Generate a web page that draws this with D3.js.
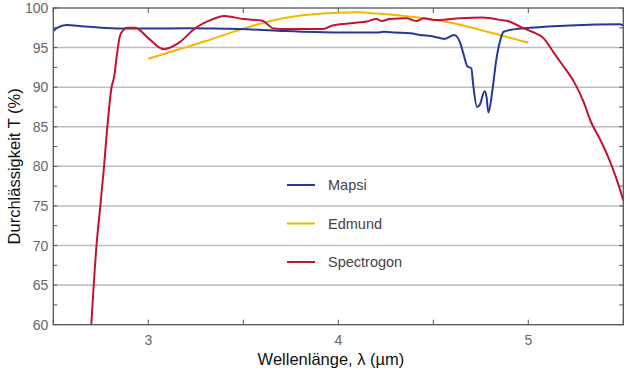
<!DOCTYPE html>
<html>

<head>
  <title>Durchlässigkeit</title>
  <script src="https://cdn.jsdelivr.net/npm/d3@7"></script>
  <style>
    body { margin: 0; background: #fff; }
  </style>
</head>

<body>
  <svg width="630" height="378" id="mainsvg"></svg>
  <script>
    // Wellenlänge (µm) / Durchlässigkeit (%)
    const mapsiX = [2.5, 2.52, 2.57, 2.65, 2.75, 2.85, 3.0, 3.2, 3.48, 3.7, 4.01, 4.2, 4.24, 4.3, 4.38, 4.43, 4.5, 4.56, 4.61, 4.64, 4.66, 4.68, 4.70, 4.71, 4.73, 4.745, 4.77, 4.78, 4.79, 4.81, 4.83, 4.85, 4.87, 4.92, 5.01, 5.22, 5.48, 5.5];
    const mapsiY = [97.1, 97.5, 97.85, 97.7, 97.5, 97.4, 97.4, 97.45, 97.35, 97.1, 96.9, 96.9, 97.0, 96.9, 96.8, 96.6, 96.4, 96.1, 96.6, 95.7, 94.1, 92.6, 92.4, 90.3, 87.5, 87.8, 89.5, 88.8, 86.8, 89.4, 93.2, 95.7, 97.0, 97.3, 97.5, 97.8, 97.95, 97.8];

    const edmundX = [3.0, 3.15, 3.3, 3.5, 3.65, 3.8, 4.0, 4.1, 4.2, 4.4, 4.6, 4.8, 5.0];
    const edmundY = [93.6, 94.7, 95.8, 97.4, 98.4, 99.05, 99.4, 99.45, 99.3, 98.85, 98.1, 96.9, 95.6];

    const spectroX = [2.70, 2.727, 2.748, 2.767, 2.783, 2.806, 2.82, 2.836, 2.85, 2.868, 2.89, 2.93, 3.0, 3.08, 3.16, 3.25, 3.32, 3.40, 3.5, 3.6, 3.66, 3.7, 3.8, 3.92, 3.97, 4.08, 4.15, 4.2, 4.23, 4.27, 4.36, 4.41, 4.45, 4.5, 4.53, 4.64, 4.76, 4.85, 4.90, 4.96, 5.02, 5.08, 5.13, 5.18, 5.24, 5.29, 5.33, 5.38, 5.42, 5.46, 5.5];
    const spectroY = [60, 69.9, 75.1, 80.0, 84.6, 89.9, 91.3, 94.3, 96.4, 97.2, 97.5, 97.5, 96.2, 94.8, 95.6, 97.5, 98.4, 99.0, 98.6, 98.4, 97.4, 97.35, 97.35, 97.35, 97.8, 98.1, 98.3, 98.6, 98.35, 98.6, 98.7, 98.35, 98.7, 98.5, 98.5, 98.7, 98.8, 98.5, 98.3, 97.6, 97.0, 96.2, 94.5, 92.8, 90.7, 88.2, 85.6, 83.3, 81.2, 78.7, 75.7];

    const seriesNames = ['Mapsi', 'Edmund', 'Spectrogon'];
    const seriesColors = ['#25399a', '#f0b800', '#c4122f'];
    const xTicks = [3, 4, 5];
    const xMinor = [2.5, 3.5, 4.5, 5.5];
    const yTicks = [60, 65, 70, 75, 80, 85, 90, 95, 100];
    const yMinor = [62.5, 67.5, 72.5, 77.5, 82.5, 87.5, 92.5, 97.5];

    const svg = d3.select('#mainsvg');
    const margin = { left: 53.3, right: 6.7, top: 8, bottom: 53.3 };
    const width = +svg.attr('width');
    const height = +svg.attr('height');
    const x = d3.scaleLinear().domain([2.5, 5.5]).range([margin.left, width - margin.right]);
    const y = d3.scaleLinear().domain([60, 100]).range([height - margin.bottom, margin.top]);

    const font = '"Liberation Sans", Arial, sans-serif';

    // gridlines
    svg.append('g').selectAll('line')
      .data(yTicks.filter(d => d > 60 && d < 100))
      .join('line')
      .attr('x1', x(2.5)).attr('x2', x(5.5))
      .attr('y1', d => y(d)).attr('y2', d => y(d))
      .attr('stroke', '#bdbdbd').attr('stroke-width', 1.5);

    // minor ticks inside frame
    const tk = svg.append('g').attr('stroke', '#555').attr('stroke-width', 1);
    xMinor.concat(xTicks).forEach(v => {
      tk.append('line').attr('x1', x(v)).attr('x2', x(v)).attr('y1', y(60)).attr('y2', y(60) - 5);
      tk.append('line').attr('x1', x(v)).attr('x2', x(v)).attr('y1', y(100)).attr('y2', y(100) + 5);
    });
    yMinor.concat(yTicks).forEach(v => {
      tk.append('line').attr('x1', x(2.5)).attr('x2', x(2.5) + 4).attr('y1', y(v)).attr('y2', y(v));
      tk.append('line').attr('x1', x(5.5)).attr('x2', x(5.5) - 4).attr('y1', y(v)).attr('y2', y(v));
    });

    // series
    const line = d3.line().x(d => x(d[0])).y(d => y(d[1])).curve(d3.curveMonotoneX);
    const clip = svg.append('clipPath').attr('id', 'clip')
      .append('rect').attr('x', x(2.5)).attr('y', y(100)).attr('width', x(5.5) - x(2.5)).attr('height', y(60) - y(100));
    const plot = svg.append('g').attr('clip-path', 'url(#clip)');
    const series = [
      { i: 1, pts: d3.zip(edmundX, edmundY) },
      { i: 0, pts: d3.zip(mapsiX, mapsiY) },
      { i: 2, pts: d3.zip(spectroX, spectroY) }
    ];
    plot.selectAll('path')
      .data(series)
      .join('path')
      .attr('d', d => line(d.pts))
      .attr('fill', 'none')
      .attr('stroke', d => seriesColors[d.i])
      .attr('stroke-width', 2)
      .attr('stroke-linejoin', 'round');

    // frame
    svg.append('rect')
      .attr('x', x(2.5)).attr('y', y(100))
      .attr('width', x(5.5) - x(2.5)).attr('height', y(60) - y(100))
      .attr('fill', 'none').attr('stroke', '#555').attr('stroke-width', 1.3);

    // tick labels
    svg.append('g').selectAll('text')
      .data(yTicks)
      .join('text')
      .attr('x', margin.left - 5)
      .attr('y', d => y(d))
      .attr('dy', '0.36em')
      .attr('text-anchor', 'end')
      .attr('font-family', font).attr('font-size', 14).attr('fill', '#666')
      .text(d => d);

    svg.append('g').selectAll('text')
      .data(xTicks)
      .join('text')
      .attr('x', d => x(d))
      .attr('y', y(60) + 20)
      .attr('text-anchor', 'middle')
      .attr('font-family', font).attr('font-size', 14).attr('fill', '#666')
      .text(d => d);

    // axis titles
    svg.append('text')
      .attr('x', 331).attr('y', 365)
      .attr('text-anchor', 'middle')
      .attr('font-family', font).attr('font-size', 16.5).attr('fill', '#111')
      .text('Wellenlänge, λ (µm)');

    svg.append('text')
      .attr('transform', `translate(20, ${(y(60) + y(100)) / 2}) rotate(-90)`)
      .attr('text-anchor', 'middle')
      .attr('font-family', font).attr('font-size', 16.5).attr('fill', '#111')
      .text('Durchlässigkeit T (%)');

    // legend
    const legend = svg.append('g').selectAll('g')
      .data(seriesNames)
      .join('g')
      .attr('transform', (d, i) => `translate(287, ${185 + i * 38.5})`);
    legend.append('line')
      .attr('x1', 0).attr('x2', 28)
      .attr('stroke', (d, i) => seriesColors[i]).attr('stroke-width', 2);
    legend.append('text')
      .attr('x', 41).attr('dy', '0.35em')
      .attr('font-family', font).attr('font-size', 14.5).attr('fill', '#444')
      .text(d => d);
  </script>
</body>

</html>
